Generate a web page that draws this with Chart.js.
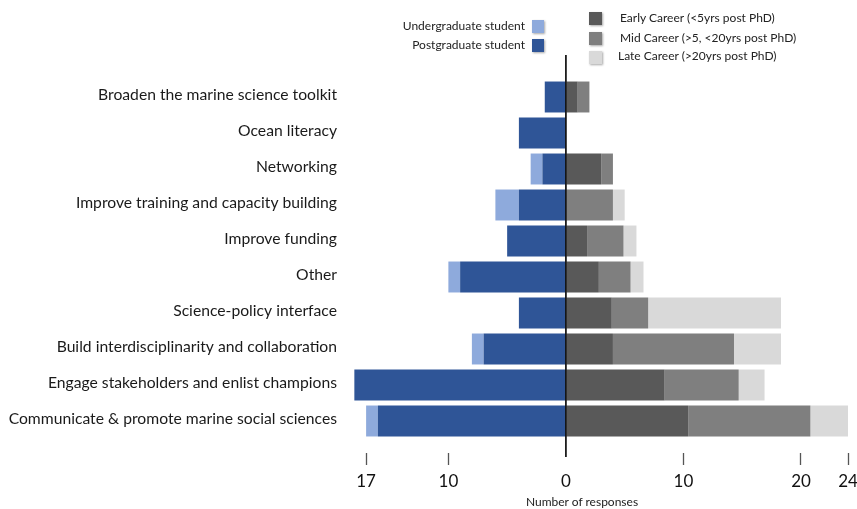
<!DOCTYPE html>
<html>
<head>
<meta charset="utf-8">
<script src="https://cdn.jsdelivr.net/npm/chart.js@4.4.0/dist/chart.umd.min.js"></script>
<style>
  body { margin: 0; background: #fff; }
  #wrap { position: relative; width: 857px; height: 509px; font-family: Lato, sans-serif; color: #222; }
  #chart { position: absolute; left: 0; top: 0; }
  .lg { position: absolute; font-size: 12px; line-height: 14px; white-space: nowrap; }
  .box { position: absolute; width: 12px; height: 13px; box-shadow: 1px 1px 2px rgba(0,0,0,0.35); }
  #xtitle { position: absolute; left: 482px; width: 200px; top: 494px; text-align: center; font-size: 12px; }
</style>
</head>
<body>
<div id="wrap">
  <canvas id="chart" width="857" height="509"></canvas>

  <!-- students legend, text left of the box -->
  <div class="lg" style="right:332px; top:19px;">Undergraduate student</div>
  <div class="box" style="left:532px; top:20px; background:#8eaadc;"></div>
  <div class="lg" style="right:332px; top:38px;">Postgraduate student</div>
  <div class="box" style="left:532px; top:39px; background:#2f5597;"></div>

  <!-- career legend -->
  <div class="box" style="left:589px; top:12px; width:13px; background:#595959;"></div>
  <div class="lg" style="left:620px; top:11px;">Early Career (&lt;5yrs post PhD)</div>
  <div class="box" style="left:589px; top:32px; width:13px; background:#7f7f7f;"></div>
  <div class="lg" style="left:620px; top:31px;">Mid Career (&gt;5, &lt;20yrs post PhD)</div>
  <div class="box" style="left:589px; top:51px; width:13px; background:#d9d9d9;"></div>
  <div class="lg" style="left:618px; top:49px;">Late Career (&gt;20yrs post PhD)</div>

  <div id="xtitle">Number of responses</div>
</div>

<script>
const categories = [
  "Broaden the marine science toolkit",
  "Ocean literacy",
  "Networking",
  "Improve training and capacity building",
  "Improve funding",
  "Other",
  "Science-policy interface",
  "Build interdisciplinarity and collaboration",
  "Engage stakeholders and enlist champions",
  "Communicate & promote marine social sciences"
];

// students (drawn to the left of zero)
const postgrad  = [1.8, 4, 2, 4, 5, 9, 4, 7, 18, 16];
const undergrad = [0, 0, 1, 2, 0, 1, 0, 1, 0, 1];

// researchers (drawn to the right)
const earlyCareer = [1, 0, 3, 0, 1.8, 2.8, 3.9, 4, 8.4, 10.4];
const midCareer   = [1, 0, 1, 4, 3.1, 2.7, 3.1, 10.3, 6.3, 10.4];
const lateCareer  = [0, 0, 0, 1, 1.1, 1.1, 11.3, 4, 2.2, 3.2];

const tickValues = [-17, -10, 0, 10, 20, 24];
const tickLabels = ["17", "10", "0", "10", "20", "24"];

const neg = arr => arr.map(v => -v);

// vertical line at zero, runs a bit above and below the bars
const zeroLine = {
  id: "zeroLine",
  afterDatasetsDraw(chart) {
    const x = chart.scales.x.getPixelForValue(0);
    const c = chart.ctx;
    c.save();
    c.strokeStyle = "#000";
    c.lineWidth = 1.6;
    c.beginPath();
    c.moveTo(x, 55);
    c.lineTo(x, chart.chartArea.bottom + 18);
    c.stroke();
    c.restore();
  }
};

const barOpts = { barPercentage: 0.86, categoryPercentage: 1, borderWidth: 0 };

new Chart(document.getElementById("chart"), {
  type: "bar",
  data: {
    labels: categories,
    datasets: [
      { label: "Postgraduate student", data: neg(postgrad), backgroundColor: "#2f5597", ...barOpts },
      { label: "Undergraduate student", data: neg(undergrad), backgroundColor: "#8eaadc", ...barOpts },
      { label: "Early Career (<5yrs post PhD)", data: earlyCareer, backgroundColor: "#595959", ...barOpts },
      { label: "Mid Career (>5, <20yrs post PhD)", data: midCareer, backgroundColor: "#7f7f7f", ...barOpts },
      { label: "Late Career (>20yrs post PhD)", data: lateCareer, backgroundColor: "#d9d9d9", ...barOpts }
    ]
  },
  options: {
    indexAxis: "y",
    responsive: false,
    animation: false,
    layout: { padding: { top: 79, left: 0, right: 9, bottom: 0 } },
    plugins: { legend: { display: false }, tooltip: { enabled: false } },
    scales: {
      x: {
        stacked: true,
        min: -18.2,
        max: 24,
        afterBuildTicks: s => { s.ticks = tickValues.map(v => ({ value: v })); },
        afterFit: s => { s.height = 70; s.paddingLeft = 0; s.paddingRight = 0; },
        border: { display: false },
        grid: {
          drawOnChartArea: false,
          drawTicks: true,
          tickLength: 26,
          tickWidth: 1.3,
          tickBorderDash: [0, 14, 12],
          tickColor: ctx => (ctx.tick && ctx.tick.value === 0) ? "rgba(0,0,0,0)" : "#555"
        },
        ticks: {
          autoSkip: false,
          maxRotation: 0,
          padding: 6,
          color: "#111",
          font: { family: "Lato", size: 17 },
          callback: (v) => tickLabels[tickValues.indexOf(v)] ?? String(Math.abs(v))
        }
      },
      y: {
        stacked: true,
        afterFit: s => { s.width = 352; },
        border: { display: false },
        grid: { display: false, drawTicks: false },
        ticks: {
          padding: 15,
          labelOffset: -2,
          color: "#1a1a1a",
          font: { family: "Lato", size: 15.7 }
        }
      }
    }
  },
  plugins: [zeroLine]
});
</script>
</body>
</html>
